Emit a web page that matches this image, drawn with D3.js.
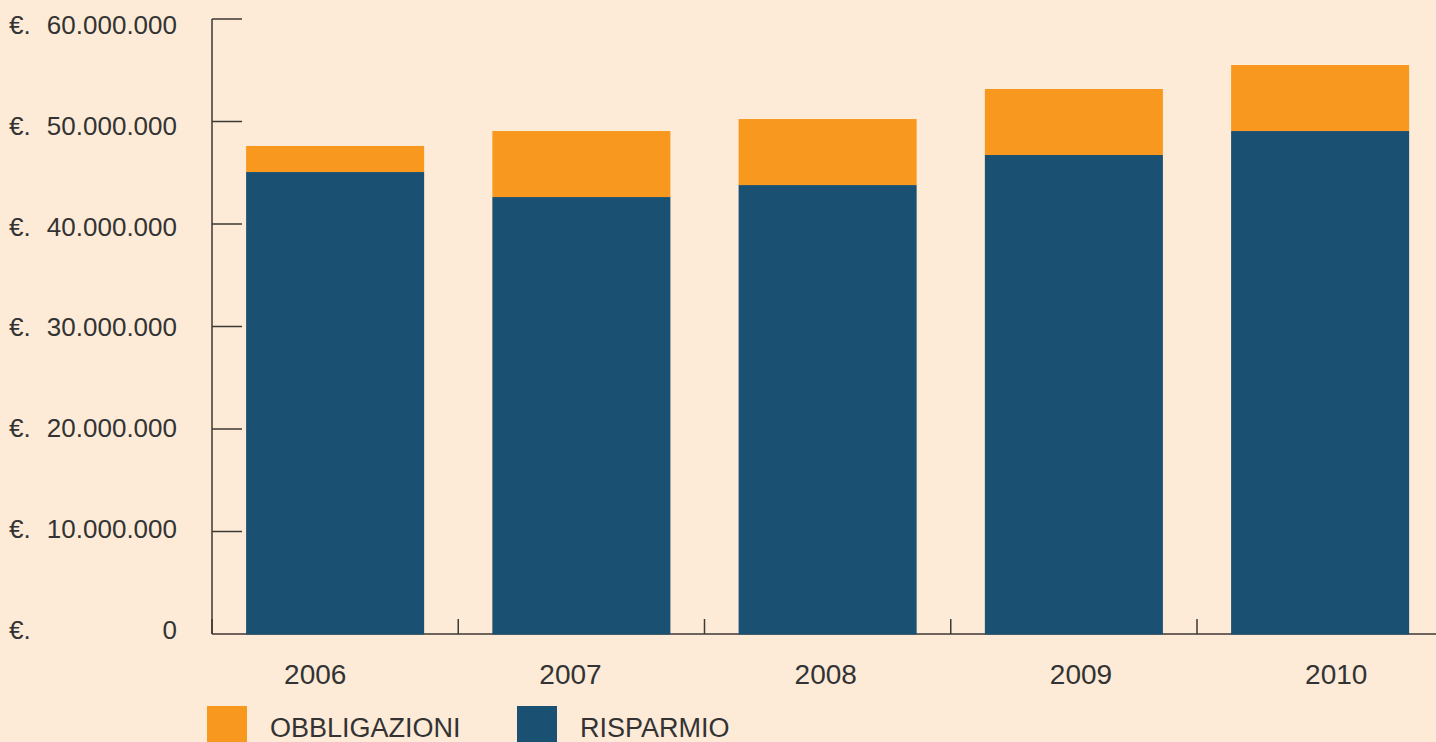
<!DOCTYPE html>
<html lang="it">
<head>
	<meta charset="utf-8">
	<title>Obbligazioni e risparmio 2006-2010</title>
	<script src="https://cdn.jsdelivr.net/npm/d3@7"></script>
	<style>
		html, body { margin: 0; padding: 0; background: #fdebd8; }
		svg { display: block; font-family: "Liberation Sans", Arial, sans-serif; }
		.lbl { fill: #333; }
	</style>
</head>
<body>
	<script>
		// data (euro)
		const years = ["2006", "2007", "2008", "2009", "2010"];
		const risparmio = [45070000, 42630000, 43800000, 46730000, 49070000];
		const obbligazioni = [2540000, 6440000, 6440000, 6440000, 6440000];
		const yTicks = [0, 10000000, 20000000, 30000000, 40000000, 50000000, 60000000];
		const seriesNames = ["OBBLIGAZIONI", "RISPARMIO"];
		const colors = { OBBLIGAZIONI: "#f8981f", RISPARMIO: "#1a5072" };

		const w = 1436, h = 742;
		const axisColor = "#3d3935";

		const svg = d3.select("body").append("svg")
			.attr("width", w)
			.attr("height", h);

		svg.append("rect").attr("width", w).attr("height", h).attr("fill", "#fdebd8");

		const xScale = d3.scaleBand()
			.domain(years)
			.range([212, 1443.25])
			.paddingInner(0.277)
			.paddingOuter(0.1385);

		// year labels sit on their own, slightly wider spacing
		const xLabel = d3.scaleBand()
			.domain(years)
			.range([187.6, 1463.9]);

		const yScale = d3.scaleLinear()
			.domain([0, 60000000])
			.range([634, 19]);

		// tick labels are spaced a bit tighter than the ticks themselves
		const yLabel = d3.scaleLinear()
			.domain([0, 60000000])
			.range([629.5, 24.7]);

		// y axis: line + inward ticks
		svg.append("line")
			.attr("x1", 212).attr("x2", 212)
			.attr("y1", yScale(60000000)).attr("y2", yScale(0))
			.attr("stroke", axisColor).attr("stroke-width", 1.5);

		svg.selectAll(".ytick")
			.data(yTicks.filter(d => d > 0))
			.enter().append("line")
			.attr("class", "ytick")
			.attr("x1", 212).attr("x2", 242)
			.attr("y1", d => yScale(d)).attr("y2", d => yScale(d))
			.attr("stroke", axisColor).attr("stroke-width", 1.5);

		const fmt = d => d === 0 ? "0" : d3.format(",")(d).replace(/,/g, ".");

		const yl = svg.selectAll(".ylab")
			.data(yTicks)
			.enter().append("g")
			.attr("class", "ylab")
			.attr("transform", d => `translate(0,${yLabel(d)})`);

		yl.append("text")
			.attr("class", "lbl")
			.attr("x", 9)
			.attr("dy", "0.36em")
			.attr("font-size", "26px")
			.text("€.");

		yl.append("text")
			.attr("class", "lbl")
			.attr("x", 177)
			.attr("dy", "0.36em")
			.attr("text-anchor", "end")
			.attr("font-size", "26px")
			.text(d => fmt(d));

		// x axis line + ticks between the bars
		svg.append("line")
			.attr("x1", 212).attr("x2", w)
			.attr("y1", yScale(0)).attr("y2", yScale(0))
			.attr("stroke", axisColor).attr("stroke-width", 1.5);

		svg.selectAll(".xtick")
			.data(years)
			.enter().append("line")
			.attr("class", "xtick")
			.attr("x1", d => xScale(d) - xScale.step() * xScale.paddingOuter())
			.attr("x2", d => xScale(d) - xScale.step() * xScale.paddingOuter())
			.attr("y1", yScale(0) - 15).attr("y2", yScale(0))
			.attr("stroke", axisColor).attr("stroke-width", 1.5);

		// stacked bars
		const bars = svg.selectAll(".bar")
			.data(years.map((y, i) => ({ year: y, ris: risparmio[i], obb: obbligazioni[i] })))
			.enter().append("g")
			.attr("class", "bar");

		bars.append("rect")
			.attr("x", d => xScale(d.year))
			.attr("width", xScale.bandwidth())
			.attr("y", d => yScale(d.ris))
			.attr("height", d => yScale(0) - yScale(d.ris) + 0.5)
			.attr("fill", colors.RISPARMIO);

		bars.append("rect")
			.attr("x", d => xScale(d.year))
			.attr("width", xScale.bandwidth())
			.attr("y", d => yScale(d.ris + d.obb))
			.attr("height", d => yScale(d.ris) - yScale(d.ris + d.obb))
			.attr("fill", colors.OBBLIGAZIONI);

		svg.selectAll(".xlab")
			.data(years)
			.enter().append("text")
			.attr("class", "lbl")
			.attr("x", d => xLabel(d) + xLabel.bandwidth() / 2)
			.attr("y", 684)
			.attr("text-anchor", "middle")
			.attr("font-size", "28px")
			.text(d => d);

		// legend
		const legX = [207, 517];
		const leg = svg.selectAll(".leg")
			.data(seriesNames)
			.enter().append("g")
			.attr("class", "leg")
			.attr("transform", (d, i) => `translate(${legX[i]},706)`);

		leg.append("rect")
			.attr("width", 40).attr("height", 40)
			.attr("fill", d => colors[d]);

		leg.append("text")
			.attr("class", "lbl")
			.attr("x", 63)
			.attr("y", 31)
			.attr("font-size", "27px")
			.text(d => d);
	</script>
</body>
</html>
